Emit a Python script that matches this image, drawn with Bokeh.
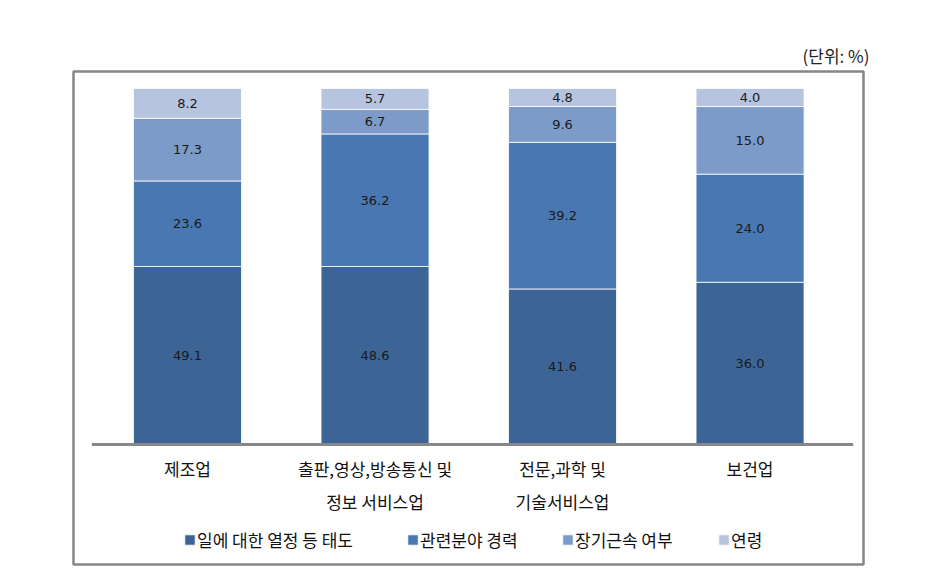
import numpy as np
from bokeh.plotting import figure
from bokeh.models import ColumnDataSource, Range1d, Legend, LegendItem
from bokeh.core.properties import value
from bokeh.embed import file_html
from bokeh.resources import INLINE

# ---- data ----
categories = ["제조업", "출판,영상,방송통신 및\n정보 서비스업", "전문,과학 및\n기술서비스업", "보건업"]
series_names = ["일에 대한 열정 등 태도", "관련분야 경력", "장기근속 여부", "연령"]
attitude = [49.1, 48.6, 41.6, 36.0]
experience = [23.6, 36.2, 39.2, 24.0]
tenure = [17.3, 6.7, 9.6, 15.0]
age = [8.2, 5.7, 4.8, 4.0]
unit_label = "(단위: %)"

colors = ["#3C6494", "#4877B1", "#7C9BC8", "#B7C4DF"]
KFONT = "Noto Sans CJK KR"
NFONT = "DejaVu Sans"

W, H = 941, 574
p = figure(width=W, height=H, output_backend="svg", toolbar_location=None,
           x_range=Range1d(-0.608, 3.605), y_range=Range1d(-33.71, 104.78),
           x_axis_location=None, y_axis_location=None,
           min_border_left=73, min_border_right=78, min_border_top=71, min_border_bottom=10)
p.xgrid.visible = False
p.ygrid.visible = False
p.outline_line_color = "#878787"
p.outline_line_width = 2.5
p.background_fill_color = "white"
p.border_fill_color = "white"

p.title.text = unit_label
p.title.align = "right"
p.title.offset = -6
p.title.text_font = KFONT
p.title.text_font_size = "17px"
p.title.text_font_style = "normal"
p.title.text_color = "#222222"
p.title.standoff = 8

vals = np.array([attitude, experience, tenure, age], dtype=float)
totals = vals.sum(axis=0)
pct = vals / totals * 100.0
tops = np.cumsum(pct, axis=0)
bottoms = tops - pct
mids = (tops + bottoms) / 2.0
xs = np.arange(len(categories), dtype=float)

renderers = []
for i in range(len(series_names)):
    src = ColumnDataSource(dict(x=xs, bottom=bottoms[i], top=tops[i], mid=mids[i],
                                lab=[f"{v:.1f}" for v in vals[i]]))
    r = p.vbar(x="x", bottom="bottom", top="top", width=0.576, source=src,
               fill_color=colors[i], line_color="white", line_width=0.8)
    renderers.append(r)
    p.text(x="x", y="mid", text="lab", source=src, text_align="center",
           text_baseline="middle", text_font=value(NFONT), text_font_size="13px",
           text_color="#1a1a1a")

# baseline (category axis line)
p.segment(x0=[xs[0] - 0.51], y0=[0], x1=[xs[-1] + 0.55], y1=[0],
          line_color="#878787", line_width=3)

# category labels (two lines)
line1 = [c.split("\n")[0] for c in categories]
line2 = [c.split("\n")[1] if "\n" in c else "" for c in categories]
p.text(x=xs, y=[-6.8] * len(xs), text=line1, text_align="center", text_baseline="middle",
       text_font=value(KFONT), text_font_size="17px", text_color="#111111")
p.text(x=xs, y=[-16.0] * len(xs), text=line2, text_align="center", text_baseline="middle",
       text_font=value(KFONT), text_font_size="17px", text_color="#111111")

# legend: one entry per box so each sits where the reference puts it
legend_x = [110, 333, 488, 644]
for n, r, lx in zip(series_names, renderers, legend_x):
    lg = Legend(items=[LegendItem(label=n, renderers=[r])],
                orientation="horizontal", location=(lx, 12),
                glyph_width=13, glyph_height=13, label_standoff=1,
                padding=0, margin=0, border_line_alpha=0, background_fill_alpha=0,
                label_text_font=KFONT, label_text_font_size="17px",
                label_text_color="#111111")
    p.add_layout(lg)

open("out.html", "w").write(file_html(p, INLINE))
